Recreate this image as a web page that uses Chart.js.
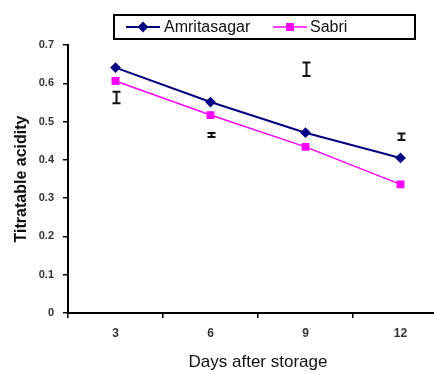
<!DOCTYPE html>
<html lang="en">
<head>
  <meta charset="UTF-8">
  <script src="https://cdn.jsdelivr.net/npm/chart.js"></script>
  <title>Titratable acidity</title>
  <style>
    body {
      margin: 0;
      padding: 0;
      background-color: #fff;
    }

    .wrap {
      width: 434px;
      height: 374px;
      overflow: hidden;
    }
  </style>
</head>
<body>
<div class="wrap">
  <canvas id="acidityChart" width="454" height="374"></canvas>
</div>

<script>
  // days after storage
  const days = ['3', '6', '9', '12'];

  const amritasagar = [0.641, 0.551, 0.471, 0.405];
  const sabri = [0.606, 0.517, 0.434, 0.336];

  // the standalone "I" bars (low / high)
  const errLow = [0.548, 0.460, 0.619, 0.452];
  const errHigh = [0.578, 0.470, 0.654, 0.469];

  const yTicks = [0, 0.1, 0.2, 0.3, 0.4, 0.5, 0.6, 0.7];

  const fontFamily = "'Liberation Sans', Arial, sans-serif";

  // draws the I shaped bars through the chart scales
  const errorBarsPlugin = {
    id: 'errorBars',
    afterDatasetsDraw(chart) {
      const ctx = chart.ctx;
      const xScale = chart.scales.x;
      const yScale = chart.scales.y;
      ctx.save();
      ctx.strokeStyle = '#111';
      ctx.lineWidth = 2;
      for (let i = 0; i < days.length; i++) {
        const x = xScale.getPixelForValue(i) + 1;
        const yLo = yScale.getPixelForValue(errLow[i]);
        const yHi = yScale.getPixelForValue(errHigh[i]);
        ctx.beginPath();
        ctx.moveTo(x, yLo);
        ctx.lineTo(x, yHi);
        ctx.moveTo(x - 4, yLo);
        ctx.lineTo(x + 4, yLo);
        ctx.moveTo(x - 4, yHi);
        ctx.lineTo(x + 4, yHi);
        ctx.stroke();
      }
      ctx.restore();
    }
  };

  // boxed legend like the original
  const boxLegendPlugin = {
    id: 'boxLegend',
    afterDraw(chart) {
      const ctx = chart.ctx;
      const entries = [
        { lineFrom: 126, lineTo: 160, textX: 164 },
        { lineFrom: 273, lineTo: 307, textX: 310 },
      ];
      const y = 27;
      ctx.save();
      ctx.strokeStyle = '#000';
      ctx.lineWidth = 2;
      ctx.strokeRect(114, 15, 301, 24);

      chart.data.datasets.forEach((ds, i) => {
        const e = entries[i];
        ctx.strokeStyle = ds.borderColor;
        ctx.lineWidth = ds.borderWidth;
        ctx.beginPath();
        ctx.moveTo(e.lineFrom, y);
        ctx.lineTo(e.lineTo, y);
        ctx.stroke();

        ctx.fillStyle = ds.pointBackgroundColor;
        ctx.strokeStyle = ds.pointBorderColor;
        Chart.helpers.drawPoint(ctx, {
          pointStyle: ds.pointStyle,
          radius: ds.pointRadius,
          rotation: 0,
          borderWidth: 1
        }, (e.lineFrom + e.lineTo) / 2, y);

        ctx.fillStyle = '#111';
        ctx.font = '16px ' + fontFamily;
        ctx.textBaseline = 'middle';
        ctx.textAlign = 'left';
        ctx.fillText(ds.label, e.textX, y + 1);
      });
      ctx.restore();
    }
  };

  const ctx = document.getElementById('acidityChart').getContext('2d');
  const acidityChart = new Chart(ctx, {
    type: 'line',
    data: {
      labels: days,
      datasets: [
        {
          label: 'Amritasagar',
          data: amritasagar,
          borderColor: '#000080',
          borderWidth: 2,
          pointStyle: 'rectRot',
          pointRadius: 4,
          pointBackgroundColor: '#000080',
          pointBorderColor: '#000080',
          fill: false,
          tension: 0,
        },
        {
          label: 'Sabri',
          data: sabri,
          borderColor: '#ff00ff',
          borderWidth: 1.5,
          pointStyle: 'rect',
          pointRadius: 4.5,
          pointBackgroundColor: '#ff00ff',
          pointBorderColor: '#ff00ff',
          fill: false,
          tension: 0,
        },
      ],
    },
    options: {
      responsive: false,
      animation: false,
      layout: {
        padding: { top: 45, left: 0, right: 0, bottom: 0 }
      },
      plugins: {
        legend: { display: false },
        tooltip: { enabled: false },
      },
      scales: {
        x: {
          offset: true,
          grid: {
            offset: true,
            drawOnChartArea: false,
            drawTicks: true,
            tickLength: 5,
            color: '#000',
            lineWidth: 1.5,
          },
          border: { color: '#000', width: 2 },
          ticks: {
            color: '#333',
            padding: 8,
            font: { family: fontFamily, size: 12, weight: 'bold' },
          },
          title: {
            display: true,
            text: 'Days after storage',
            color: '#111',
            font: { family: fontFamily, size: 17 },
            padding: { top: 0, bottom: 1 },
          },
          afterFit(scale) {
            scale.height = 61;
          },
        },
        y: {
          min: 0,
          max: 0.7,
          afterBuildTicks(scale) {
            scale.ticks = yTicks.map(v => ({ value: v }));
          },
          grid: {
            drawOnChartArea: false,
            drawTicks: true,
            tickLength: 5,
            color: '#000',
            lineWidth: 1.5,
          },
          border: { color: '#000', width: 2 },
          ticks: {
            color: '#333',
            padding: 9,
            font: { family: fontFamily, size: 11, weight: 'bold' },
            callback: (v) => String(v),
          },
          title: {
            display: true,
            text: 'Titratable acidity',
            color: '#111',
            font: { family: fontFamily, size: 16, weight: 'bold' },
            padding: { top: 12, bottom: 0 },
          },
          afterFit(scale) {
            scale.width = 68;
          },
        },
      },
    },
    plugins: [errorBarsPlugin, boxLegendPlugin],
  });
</script>
</body>
</html>
